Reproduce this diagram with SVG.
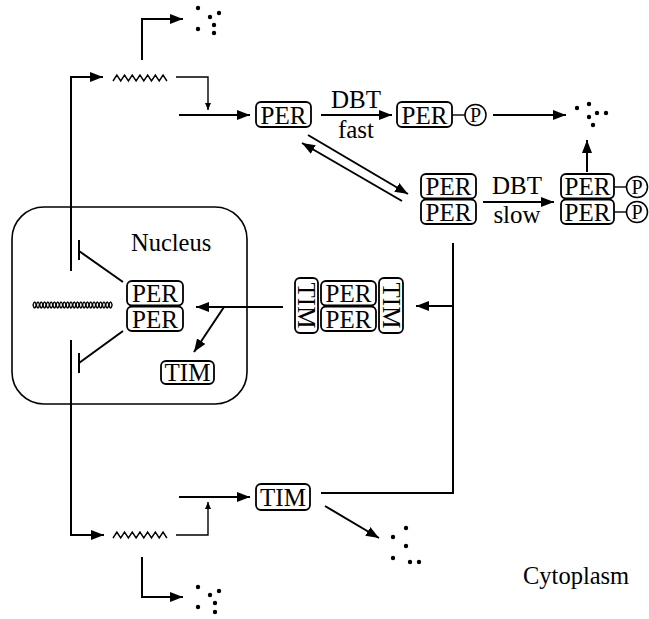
<svg xmlns="http://www.w3.org/2000/svg" width="649" height="619" viewBox="0 0 649 619">
<style>
.box{fill:#fff;stroke:#000;stroke-width:1.8}
.ln{fill:none;stroke:#000;stroke-width:2}
.thin{fill:none;stroke:#000;stroke-width:1.4}
.t{font-family:"Liberation Serif","Times New Roman",serif;font-size:25px;text-anchor:middle;fill:#000}
.tl{font-family:"Liberation Serif","Times New Roman",serif;font-size:24.5px;fill:#000}
.tp{font-family:"Liberation Serif","Times New Roman",serif;font-size:20px;text-anchor:middle;fill:#000}
.c{fill:#fff;stroke:#000;stroke-width:1.5}
.d{fill:#000}
</style>
<defs>
<marker id="ah" markerUnits="userSpaceOnUse" markerWidth="13" markerHeight="10" refX="13" refY="5" orient="auto"><path d="M0,0 L13,5 L0,10 z" fill="#000"/></marker>
<marker id="as" markerUnits="userSpaceOnUse" markerWidth="7" markerHeight="6" refX="7" refY="3" orient="auto"><path d="M0,0 L7,3 L0,6 z" fill="#000"/></marker>
</defs>

<g id="nucleus">
<rect x="12" y="207" width="235" height="197" rx="32" fill="none" stroke="#000" stroke-width="1.6"/>
<text class="tl" x="131" y="251">Nucleus</text>
</g>
<text class="tl" x="523" y="584">Cytoplasm</text>

<g id="dna">
<path class="thin" stroke-width="1.4" d="M33,305 q1.65,-6 3.3,0 t3.3,0 t3.3,0 t3.3,0 t3.3,0 t3.3,0 t3.3,0 t3.3,0 t3.3,0 t3.3,0 t3.3,0 t3.3,0 t3.3,0 t3.3,0 t3.3,0 t3.3,0 t3.3,0 t3.3,0 t3.3,0 t3.3,0 t3.3,0 t3.3,0 t3.3,0 t3.3,0"/>
<path class="thin" stroke-width="1.4" d="M33,305 q1.65,6 3.3,0 t3.3,0 t3.3,0 t3.3,0 t3.3,0 t3.3,0 t3.3,0 t3.3,0 t3.3,0 t3.3,0 t3.3,0 t3.3,0 t3.3,0 t3.3,0 t3.3,0 t3.3,0 t3.3,0 t3.3,0 t3.3,0 t3.3,0 t3.3,0 t3.3,0 t3.3,0 t3.3,0"/>
</g>

<g id="mrna-per">
<path class="thin" d="M113,81 l3.85,-6 l3.85,6 l3.85,-6 l3.85,6 l3.85,-6 l3.85,6 l3.85,-6 l3.85,6 l3.85,-6 l3.85,6 l3.85,-6 l3.85,6 l3.85,-6 l3.85,6"/>
</g>
<g id="mrna-tim">
<path class="thin" d="M113,538 l3.85,-6 l3.85,6 l3.85,-6 l3.85,6 l3.85,-6 l3.85,6 l3.85,-6 l3.85,6 l3.85,-6 l3.85,6 l3.85,-6 l3.85,6 l3.85,-6 l3.85,6"/>
</g>

<g id="per1">
<rect class="box" x="256" y="102" width="55" height="25" rx="5"/>
<text class="t" x="283.5" y="123.5">PER</text>
</g>
<g id="per-p">
<rect class="box" x="397" y="102" width="55" height="25" rx="5"/>
<text class="t" x="424.5" y="123.5">PER</text>
<line class="thin" x1="452" y1="115" x2="465" y2="115"/>
<circle class="c" cx="475.5" cy="115" r="10.5"/>
<text class="tp" x="475.5" y="122">P</text>
</g>
<g id="perper">
<rect class="box" x="421" y="174" width="55" height="24.5" rx="5"/>
<text class="t" x="448.5" y="195">PER</text>
<rect class="box" x="421" y="199.5" width="55" height="24.5" rx="5"/>
<text class="t" x="448.5" y="220.5">PER</text>
</g>
<g id="perper-pp">
<rect class="box" x="561" y="174" width="53" height="24.5" rx="5"/>
<text class="t" x="587.5" y="195">PER</text>
<rect class="box" x="561" y="199.5" width="53" height="24.5" rx="5"/>
<text class="t" x="587.5" y="220.5">PER</text>
<line class="thin" x1="614" y1="187" x2="627" y2="187"/>
<line class="thin" x1="614" y1="212" x2="627" y2="212"/>
<circle class="c" cx="637" cy="187" r="10.5"/>
<text class="tp" x="637" y="194">P</text>
<circle class="c" cx="637" cy="212" r="10.5"/>
<text class="tp" x="637" y="219">P</text>
</g>
<g id="complex">
<rect class="box" x="295" y="278" width="23" height="55" rx="5"/>
<text class="t" x="306.5" y="314" transform="rotate(90 306.5 305.5)">TIM</text>
<rect class="box" x="321" y="281" width="55" height="24.5" rx="5"/>
<text class="t" x="348.5" y="302">PER</text>
<rect class="box" x="321" y="306.5" width="55" height="24.5" rx="5"/>
<text class="t" x="348.5" y="327.5">PER</text>
<rect class="box" x="379" y="278" width="24" height="55" rx="5"/>
<text class="t" x="391" y="314" transform="rotate(90 391 305.5)">TIM</text>
</g>
<g id="nuc-perper">
<rect class="box" x="127" y="281" width="56" height="24.5" rx="5"/>
<text class="t" x="155" y="302">PER</text>
<rect class="box" x="127" y="306.5" width="56" height="24.5" rx="5"/>
<text class="t" x="155" y="327.5">PER</text>
</g>
<g id="nuc-tim">
<rect class="box" x="161" y="361" width="53" height="23" rx="5"/>
<text class="t" x="187.5" y="381">TIM</text>
</g>
<g id="tim">
<rect class="box" x="256" y="484" width="54" height="26" rx="5"/>
<text class="t" x="283" y="505.5">TIM</text>
</g>

<g id="dots">
<circle class="d" cx="198" cy="8" r="2.2"/><circle class="d" cx="210" cy="17" r="2.2"/><circle class="d" cx="219" cy="13" r="2.2"/><circle class="d" cx="198" cy="29" r="2.2"/><circle class="d" cx="214" cy="25" r="2.2"/><circle class="d" cx="214" cy="33" r="2.2"/>
<circle class="d" cx="577" cy="108" r="2.2"/><circle class="d" cx="589" cy="104" r="2.2"/><circle class="d" cx="589" cy="117" r="2.2"/><circle class="d" cx="597" cy="113" r="2.2"/><circle class="d" cx="606" cy="113" r="2.2"/><circle class="d" cx="593" cy="125" r="2.2"/>
<circle class="d" cx="393" cy="537" r="2.2"/><circle class="d" cx="406" cy="528" r="2.2"/><circle class="d" cx="406" cy="546" r="2.2"/><circle class="d" cx="393" cy="558" r="2.2"/><circle class="d" cx="410" cy="562" r="2.2"/><circle class="d" cx="419" cy="562" r="2.2"/>
<circle class="d" cx="198" cy="587" r="2.2"/><circle class="d" cx="210" cy="595" r="2.2"/><circle class="d" cx="219" cy="591" r="2.2"/><circle class="d" cx="198" cy="607" r="2.2"/><circle class="d" cx="215" cy="603" r="2.2"/><circle class="d" cx="215" cy="612" r="2.2"/>
</g>

<g id="labels">
<text class="t" x="356" y="108">DBT</text>
<text class="t" x="356" y="138">fast</text>
<text class="t" x="517" y="194">DBT</text>
<text class="t" x="517" y="223">slow</text>
</g>

<g id="connectors">
<polyline class="ln" points="71,271 71,77 103,77" marker-end="url(#ah)"/>
<polyline class="ln" points="142,60 142,19 183,19" marker-end="url(#ah)"/>
<polyline class="thin" points="176,77 208,77 208,110" marker-end="url(#as)"/>
<line class="ln" x1="179" y1="115" x2="250" y2="115" marker-end="url(#ah)"/>
<line class="ln" x1="321" y1="115" x2="392" y2="115" marker-end="url(#ah)"/>
<line class="ln" x1="493" y1="115" x2="566" y2="115" marker-end="url(#ah)"/>
<line class="ln" x1="587" y1="172" x2="587" y2="140" marker-end="url(#ah)"/>
<line class="ln" x1="308" y1="135" x2="408" y2="194" marker-end="url(#ah)"/>
<line class="ln" x1="402" y1="201" x2="302" y2="143" marker-end="url(#ah)"/>
<line class="ln" x1="483" y1="202" x2="554" y2="202" marker-end="url(#ah)"/>
<polyline class="ln" points="453,243 453,493 321,493"/>
<line class="ln" x1="453" y1="306" x2="416" y2="306" marker-end="url(#ah)"/>
<line class="ln" x1="283" y1="307" x2="196" y2="307" marker-end="url(#ah)"/>
<line class="ln" x1="224" y1="307" x2="194" y2="352" marker-end="url(#ah)"/>
<line class="ln" x1="123" y1="282" x2="79" y2="251"/>
<line class="ln" x1="79" y1="240" x2="79" y2="260"/>
<line class="ln" x1="123" y1="331" x2="79" y2="363"/>
<line class="ln" x1="79" y1="353" x2="79" y2="373"/>
<polyline class="ln" points="71,340 71,535 104,535" marker-end="url(#ah)"/>
<polyline class="thin" points="176,535 208,535 208,502" marker-end="url(#as)"/>
<line class="ln" x1="179" y1="497" x2="250" y2="497" marker-end="url(#ah)"/>
<polyline class="ln" points="142,557 142,597 183,597" marker-end="url(#ah)"/>
<line class="ln" x1="325" y1="506" x2="379" y2="538" marker-end="url(#ah)"/>
</g>
</svg>
